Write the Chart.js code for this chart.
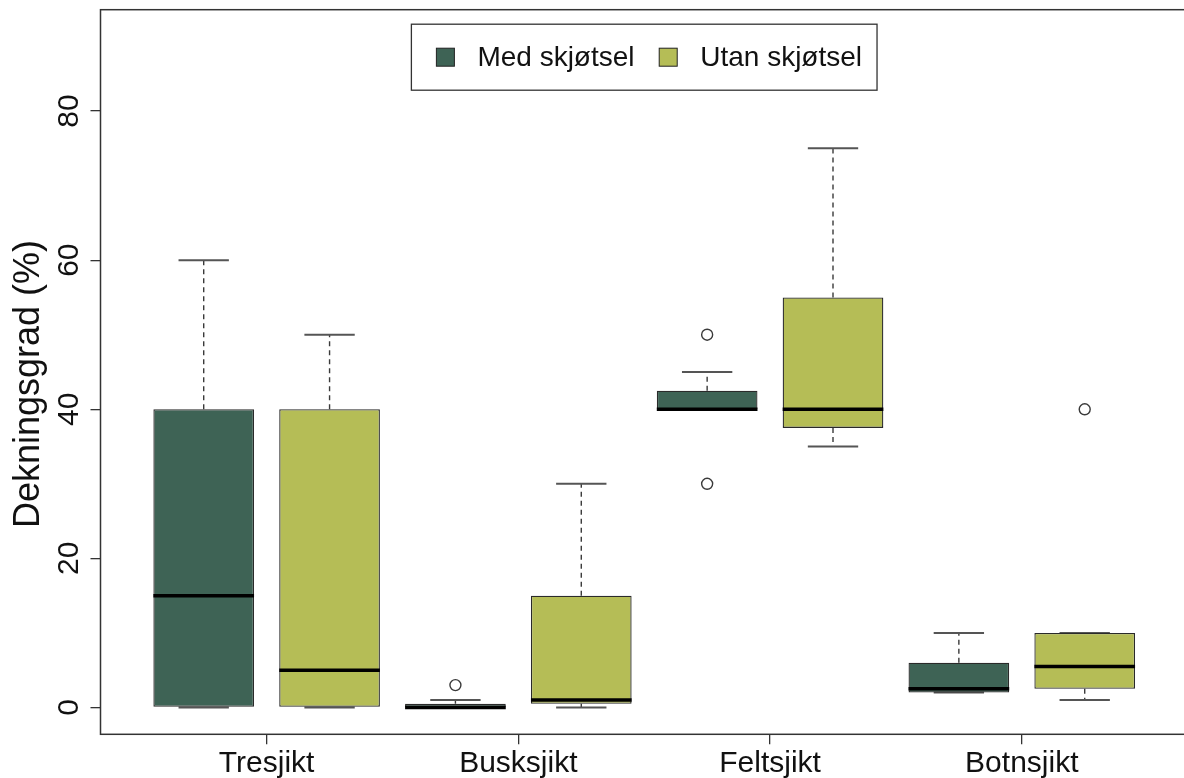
<!DOCTYPE html>
<html><head><meta charset="utf-8">
<script src="https://cdn.jsdelivr.net/npm/chart.js@4.4.1/dist/chart.umd.min.js"></script>
<style>html,body{margin:0;padding:0;background:#fff;} canvas{display:block;}</style>
</head><body>
<canvas id="c" width="1184" height="778"></canvas>
<script>
// ---- data ----
const categories = ['Tresjikt', 'Busksjikt', 'Feltsjikt', 'Botnsjikt'];
const groups = ['Med skjøtsel', 'Utan skjøtsel'];
const yTicks = [0, 20, 40, 60, 80];
const yTitle = 'Dekningsgrad (%)';

const medMin      = [0, 0, 40, 2];
const medQ1       = [0, 0, 40, 2];
const medMedian   = [15, 0, 40, 2.5];
const medQ3       = [40, 0.5, 42.5, 6];
const medMax      = [60, 1, 45, 10];
const medOutliers = [[], [3], [50, 30], []];

const utanMin      = [0, 0, 35, 1];
const utanQ1       = [0, 0.5, 37.5, 2.5];
const utanMedian   = [5, 1, 40, 5.5];
const utanQ3       = [40, 15, 55, 10];
const utanMax      = [50, 30, 75, 10];
const utanOutliers = [[], [], [], [40]];

// ---- styles ----
const FONT = 'Liberation Sans, Arial, Helvetica, sans-serif';
const colors = ['#3e6355', '#b5bd56'];
const stats = [
  {min: medMin, q1: medQ1, med: medMedian, q3: medQ3, max: medMax, out: medOutliers, off: 1},
  {min: utanMin, q1: utanQ1, med: utanMedian, q3: utanQ3, max: utanMax, out: utanOutliers, off: 2}
];
const pos = (i, g) => 2 * i + stats[g].off;

const boxDatasets = stats.map((s, g) => ({
  type: 'bar',
  label: groups[g],
  data: categories.map((c, i) => ({x: pos(i, g), y: [s.q1[i], s.q3[i]]})),
  backgroundColor: colors[g],
  borderColor: '#2a2a2a',
  borderWidth: 1.3,
  borderSkipped: false,
  grouped: false,
  barPercentage: 0.8,
  categoryPercentage: 1.0,
  order: 2
}));

const outlierData = [];
stats.forEach((s, g) => s.out.forEach((arr, i) => arr.forEach(v => outlierData.push({x: pos(i, g), y: v}))));

const boxPlugin = {
  id: 'boxparts',
  beforeDatasetsDraw(chart) {
    const {ctx, scales: {x: xs, y: ys}} = chart;
    ctx.save();
    stats.forEach((s, g) => categories.forEach((c, i) => {
      const px = xs.getPixelForValue(pos(i, g));
      const hc = xs.getPixelForValue(pos(i, g) + 0.2) - px;
      ctx.strokeStyle = '#3a3a3a';
      ctx.lineWidth = 1.4;
      ctx.setLineDash([5, 4]);
      ctx.beginPath();
      if (s.max[i] > s.q3[i]) { ctx.moveTo(px, ys.getPixelForValue(s.q3[i])); ctx.lineTo(px, ys.getPixelForValue(s.max[i])); }
      if (s.min[i] < s.q1[i]) { ctx.moveTo(px, ys.getPixelForValue(s.q1[i])); ctx.lineTo(px, ys.getPixelForValue(s.min[i])); }
      ctx.stroke();
      ctx.setLineDash([]);
      ctx.strokeStyle = '#555';
      ctx.lineWidth = 2;
      ctx.beginPath();
      [s.max[i], s.min[i]].forEach(v => {
        const py = ys.getPixelForValue(v);
        ctx.moveTo(px - hc, py); ctx.lineTo(px + hc, py);
      });
      ctx.stroke();
    }));
    ctx.restore();
  },
  afterDatasetsDraw(chart) {
    const {ctx, scales: {x: xs, y: ys}} = chart;
    ctx.save();
    ctx.strokeStyle = '#000';
    ctx.lineWidth = 3.5;
    stats.forEach((s, g) => categories.forEach((c, i) => {
      const px = xs.getPixelForValue(pos(i, g));
      const hb = xs.getPixelForValue(pos(i, g) + 0.4) - px;
      const py = ys.getPixelForValue(s.med[i]);
      ctx.beginPath(); ctx.moveTo(px - hb, py); ctx.lineTo(px + hb, py); ctx.stroke();
    }));
    ctx.restore();
  },
  afterDraw(chart) {
    const {ctx, chartArea: ca, scales: {x: xs}} = chart;
    ctx.save();
    // frame
    ctx.strokeStyle = '#333';
    ctx.lineWidth = 1.5;
    ctx.strokeRect(ca.left, ca.top, ca.right - ca.left + 40, ca.bottom - ca.top);
    // y-axis title
    ctx.save();
    ctx.font = '36px ' + FONT;
    ctx.fillStyle = '#111';
    ctx.textAlign = 'center';
    ctx.textBaseline = 'middle';
    ctx.translate(29, (ca.top + ca.bottom) / 2 + 12);
    ctx.rotate(-Math.PI / 2);
    ctx.fillText(yTitle, 0, 0);
    ctx.restore();
    // legend
    ctx.font = '28px ' + FONT;
    const slot = Math.max(...groups.map(t => ctx.measureText(t).width));
    const sq = 18, padL = 25, gapT = 23, gapC = 20, padR = 15;
    const w = padL + 2 * (sq + gapT + slot) + gapC + padR;
    const h = 66;
    const cx = xs.getPixelForValue(4.5);
    const left = cx - w / 2, top = ca.top + 14.5;
    ctx.fillStyle = '#fff';
    ctx.fillRect(left, top, w, h);
    ctx.strokeStyle = '#333';
    ctx.lineWidth = 1.3;
    ctx.strokeRect(left, top, w, h);
    const cy = top + h / 2;
    let xx = left + padL;
    groups.forEach((t, g) => {
      ctx.fillStyle = colors[g];
      ctx.fillRect(xx, cy - sq / 2, sq, sq);
      ctx.strokeStyle = '#222';
      ctx.lineWidth = 1;
      ctx.strokeRect(xx, cy - sq / 2, sq, sq);
      ctx.fillStyle = '#111';
      ctx.textBaseline = 'middle';
      ctx.textAlign = 'left';
      ctx.fillText(t, xx + sq + gapT, cy + 1);
      xx += sq + gapT + slot + gapC;
    });
    ctx.restore();
  }
};

new Chart(document.getElementById('c'), {
  type: 'bar',
  data: {
    datasets: [
      ...boxDatasets,
      {
        type: 'scatter',
        label: 'outliers',
        data: outlierData,
        pointStyle: 'circle',
        pointRadius: 5.5,
        pointBackgroundColor: 'rgba(255,255,255,0)',
        pointBorderColor: '#3a3a3a',
        pointBorderWidth: 1.4,
        order: 1
      }
    ]
  },
  options: {
    responsive: false,
    devicePixelRatio: 1,
    animation: false,
    layout: {padding: {top: 9.7, right: 0, bottom: 0, left: 0}},
    plugins: {legend: {display: false}, tooltip: {enabled: false}},
    scales: {
      x: {
        type: 'linear',
        offset: false,
        min: 0.18,
        max: 8.734,
        afterBuildTicks: s => { s.ticks = categories.map((c, i) => ({value: 2 * i + 1.5})); },
        afterFit: s => { s.height = 43.7; s.paddingLeft = 0; s.paddingRight = 0; },
        grid: {display: true, offset: false, drawOnChartArea: false, drawTicks: true, tickLength: 10, tickColor: '#333', lineWidth: 1.3},
        border: {display: false},
        ticks: {
          autoSkip: false, maxRotation: 0, minRotation: 0, padding: 1,
          color: '#111', font: {family: FONT, size: 30},
          callback: v => categories[Math.round((v - 1.5) / 2)]
        }
      },
      y: {
        type: 'linear',
        min: -3.6,
        max: 93.6,
        afterBuildTicks: s => { s.ticks = yTicks.map(v => ({value: v})); },
        afterFit: s => { s.width = 100.5; s.paddingTop = 0; s.paddingBottom = 0; },
        grid: {display: true, drawOnChartArea: false, drawTicks: true, tickLength: 10, tickColor: '#333', lineWidth: 1.3},
        border: {display: false},
        title: {display: false},
        ticks: {
          minRotation: 90, maxRotation: 90, crossAlign: 'center', padding: 4,
          color: '#111', font: {family: FONT, size: 30},
          callback: v => String(v)
        }
      }
    }
  },
  plugins: [boxPlugin]
});
</script>
</body></html>
